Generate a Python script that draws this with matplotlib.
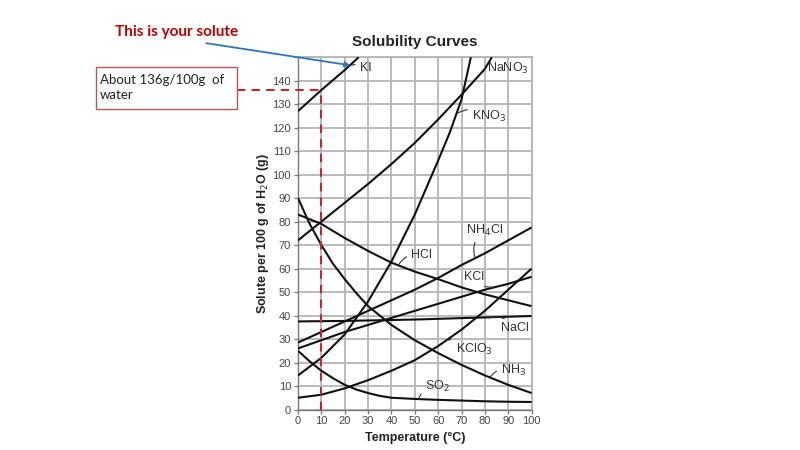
"""
Solubility curves with a worked reading for KI at 10 °C.
"""
import matplotlib
matplotlib.use("Agg")
import matplotlib.pyplot as plt

# ─────────────────────────────────────────────
# DATA  (g solute per 100 g water)
# ─────────────────────────────────────────────
KI_T      = [0, 10, 20, 26]
KI_S      = [127, 136, 144.5, 150]

NANO3_T   = [0, 10, 20, 30, 40, 50, 60, 70, 80, 83]
NANO3_S   = [72, 80, 88, 96, 104.5, 113.5, 123.5, 134, 145, 150]

KNO3_T    = [0, 10, 20, 30, 40, 50, 60, 65, 70, 74]
KNO3_S    = [14.5, 22, 32, 46, 63, 83, 106, 118, 132, 150]

T         = [0, 10, 20, 30, 40, 50, 60, 70, 80, 90, 100]
NH4CL_S   = [28.5, 33, 37.5, 42, 46.5, 51, 56, 61.5, 66.5, 72, 77.5]
HCL_S     = [83, 79, 73, 67.5, 62.5, 58.7, 55.5, 52, 49, 46.5, 44]
KCL_S     = [26, 29.5, 33, 36, 39, 42, 45, 48, 51, 53.5, 56.5]
NACL_S    = [37.5, 37.6, 37.7, 37.9, 38.1, 38.3, 38.6, 38.9, 39.2, 39.5, 39.8]
KCLO3_S   = [5, 6.3, 9, 12.5, 16.5, 21, 27, 34, 42, 51, 60]

NH3_T     = [0, 5, 10, 15, 20, 25, 30, 40, 50, 60, 70, 80, 90, 100]
NH3_S     = [90, 79, 70, 62, 55.5, 49.5, 44, 36, 29.5, 24, 19, 14.5, 10.5, 7]

SO2_T     = [0, 5, 10, 15, 20, 25, 30, 35, 40, 50, 60, 70, 80, 90, 100]
SO2_S     = [25, 20.5, 16.5, 13.3, 10.5, 8.5, 7, 5.8, 5, 4.5, 4.1, 3.8, 3.5, 3.3, 3.2]

X_TICKS   = list(range(0, 101, 10))
Y_TICKS   = list(range(0, 151, 10))
Y_LABELS  = [str(v) for v in range(0, 141, 10)] + [""]

READ_T    = 10
READ_S    = 136     # KI solubility at that temperature

# label text, text anchor (T, S), point on curve (T, S)
CURVE_LABELS = [
    ("KI",             (26.5, 145.3), (23.0, 146.5)),
    ("NaNO$_3$",       (81.0, 145.3), (78.0, 142.5)),
    ("KNO$_3$",        (74.5, 124.6), (68.0, 126.0)),
    ("NH$_4$Cl",       (72.0, 76.4),  (75.8, 64.5)),
    ("HCl",            (48.5, 65.7),  (43.0, 61.5)),
    ("KCl",            (71.0, 56.5),  (84.3, 52.2)),
    ("NaCl",           (87.0, 34.5),  (81.9, 39.0)),
    ("KClO$_3$",       (67.5, 25.6),  (63.4, 29.3)),
    ("NH$_3$",         (87.0, 16.8),  (82.2, 13.8)),
    ("SO$_2$",         (54.5, 9.7),   (51.5, 4.4)),
]

# ─────────────────────────────────────────────
# FIGURE
# ─────────────────────────────────────────────
plt.rcParams["font.family"] = ["Liberation Sans", "DejaVu Sans"]

fig = plt.figure(figsize=(8, 4.5), dpi=100)
ax = fig.add_axes([0.3725, 0.09, 0.292, 0.783])

curve_kw = dict(color="#111111", lw=1.5, solid_capstyle="butt", zorder=3)
ax.plot(KI_T, KI_S, **curve_kw)
ax.plot(NANO3_T, NANO3_S, **curve_kw)
ax.plot(KNO3_T, KNO3_S, **curve_kw)
ax.plot(T, NH4CL_S, **curve_kw)
ax.plot(T, HCL_S, **curve_kw)
ax.plot(T, KCL_S, **curve_kw)
ax.plot(T, NACL_S, **curve_kw)
ax.plot(T, KCLO3_S, **curve_kw)
ax.plot(NH3_T, NH3_S, **curve_kw)
ax.plot(SO2_T, SO2_S, **curve_kw)

ax.set_xlim(0, 100)
ax.set_ylim(0, 150)
ax.set_xticks(X_TICKS)
ax.set_yticks(Y_TICKS)
ax.set_yticklabels(Y_LABELS)
ax.grid(color="#b4b4b4", lw=1.3, zorder=0)
ax.tick_params(labelsize=8, labelcolor="#444444", color="#777777",
               length=3, width=0.9, pad=2)

for side in ("top", "right"):
    ax.spines[side].set_color("#b4b4b4")
    ax.spines[side].set_linewidth(1.3)
for side in ("left", "bottom"):
    ax.spines[side].set_color("#777777")
    ax.spines[side].set_linewidth(1.0)

ax.set_title("Solubility Curves", fontsize=11, fontweight="bold",
             color="#222222", pad=8)
ax.set_xlabel("Temperature (\u00b0C)", fontsize=9, fontweight="bold",
              color="#222222", labelpad=4)
ax.set_ylabel("Solute per 100 g of H$_2$O (g)", fontsize=9,
              fontweight="bold", color="#222222", labelpad=1)

# curve labels with little hooks
for text, xytext, xy in CURVE_LABELS:
    ax.annotate(text, xy=xy, xytext=xytext, ha="left", va="center",
                fontsize=9, color="#333333", zorder=5,
                arrowprops=dict(arrowstyle="-", color="#333333", lw=0.8,
                                shrinkA=1.5, shrinkB=0,
                                connectionstyle="arc3,rad=0.35"))

# ── red dashed reading lines ─────────────────
red = "#c0262c"
ax.plot([READ_T, READ_T], [0, READ_S], color=red, lw=1.5,
        ls=(0, (4, 3)), zorder=4, clip_on=False)
ax.plot([-26, READ_T], [READ_S, READ_S], color=red, lw=1.5,
        ls=(0, (4, 3)), zorder=4, clip_on=False)

# ── callouts ─────────────────────────────────
fig.text(0.1435, 0.929, "This is your solute", fontsize=11,
         fontweight="bold", color="#c00000", family=["Lato", "DejaVu Sans"],
         ha="left", va="center")

fig.text(0.125, 0.806, "About 136g/100g  of\nwater", fontsize=9.5,
         color="#222222", family=["Lato", "DejaVu Sans"],
         ha="left", va="center", linespacing=1.35)
box = plt.Rectangle((0.12, 0.757), 0.176, 0.095, transform=fig.transFigure,
                    fill=False, edgecolor="#b05a50", lw=1.0)
fig.add_artist(box)

ax.annotate("", xy=(22.5, 146.5), xycoords="data",
            xytext=(0.258, 0.904), textcoords="figure fraction",
            arrowprops=dict(arrowstyle="-|>", color="#2e75b6", lw=1.3,
                            mutation_scale=8, shrinkA=0, shrinkB=0),
            annotation_clip=False)

fig.savefig("out.png", dpi=100)
